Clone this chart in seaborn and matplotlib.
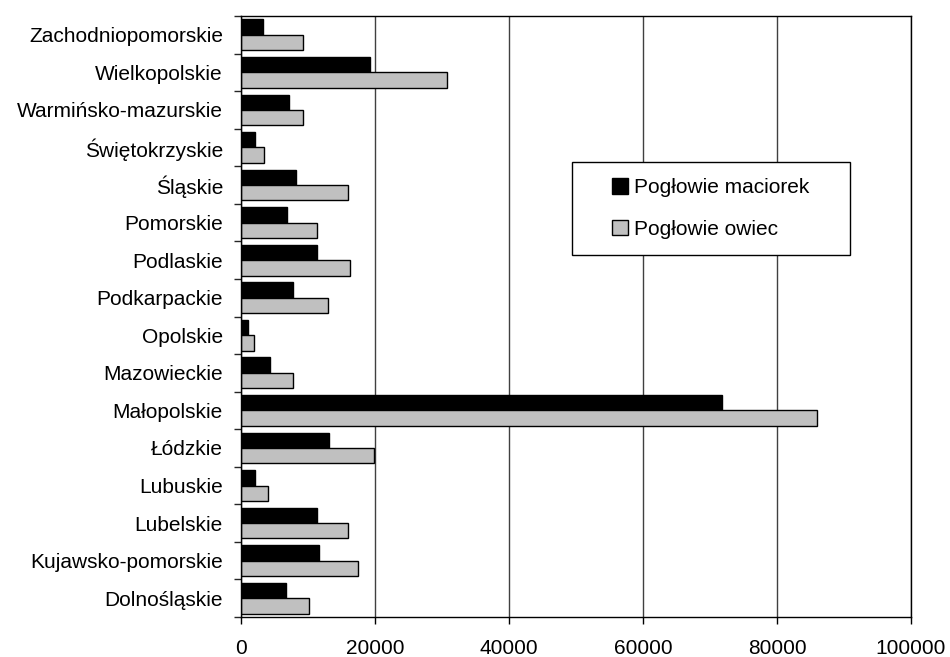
import matplotlib
matplotlib.use("Agg")
import matplotlib.pyplot as plt
from matplotlib.patches import Rectangle
import seaborn as sns
import pandas as pd
import numpy as np

regions = ['Zachodniopomorskie', 'Wielkopolskie', 'Warmińsko-mazurskie', 'Świętokrzyskie',
           'Śląskie', 'Pomorskie', 'Podlaskie', 'Podkarpackie', 'Opolskie', 'Mazowieckie',
           'Małopolskie', 'Łódzkie', 'Lubuskie', 'Lubelskie', 'Kujawsko-pomorskie', 'Dolnośląskie']
maciorki = [3300, 19300, 7200, 2100, 8200, 6900, 11300, 7800, 1000, 4300,
            71800, 13100, 2100, 11300, 11700, 6700]
owce = [9200, 30800, 9200, 3400, 15900, 11400, 16300, 13000, 2000, 7700,
        86000, 19800, 4000, 15900, 17500, 10200]
series = ['Pogłowie maciorek', 'Pogłowie owiec']

df = pd.DataFrame({'region': regions * 2,
                   'value': maciorki + owce,
                   'series': [series[0]] * len(regions) + [series[1]] * len(regions)})

sns.set_style("white")
plt.rcParams['font.family'] = ['Liberation Sans', 'DejaVu Sans']

fig = plt.figure(figsize=(9.5, 6.57), dpi=100)
ax = fig.add_axes([0.2537, 0.0609, 0.7053, 0.9147])
ax.set_axisbelow(True)
sns.barplot(data=df, x='value', y='region', hue='series', order=regions, hue_order=series,
            palette=['#000000', '#c0c0c0'], width=0.82, gap=0, edgecolor='black',
            linewidth=1, orient='h', ax=ax)

ax.set_xlim(0, 100000)
ax.set_xticks(np.arange(0, 100001, 20000))
ax.xaxis.grid(True, color='#404040', linewidth=1)
ax.yaxis.grid(False)
ax.set_xlabel('')
ax.set_ylabel('')
ax.tick_params(axis='both', labelsize=15, colors='black')
ax.tick_params(axis='x', direction='out', length=5, width=1, bottom=True, pad=11)
ax.tick_params(axis='y', which='major', length=0, pad=13)
ax.set_yticks(np.arange(-0.5, len(regions), 1), minor=True)
ax.tick_params(axis='y', which='minor', direction='out', length=5, width=1, left=True)
ax.set_ylim(len(regions) - 0.5, -0.5)
for s in ax.spines.values():
    s.set_color('black')
    s.set_linewidth(1)

# legend box drawn separately (wide side padding like the original)
ax.add_patch(Rectangle((0.494, 0.602), 0.415, 0.155, transform=ax.transAxes,
                       facecolor='white', edgecolor='black', linewidth=1, zorder=5))
leg = ax.legend(loc='center', bbox_to_anchor=(0.7015, 0.6795), fontsize=15, frameon=False,
                handlelength=0.75, handleheight=0.75, handletextpad=0.3, labelspacing=1.1,
                borderpad=0, borderaxespad=0)
leg.set_zorder(6)
for t in leg.texts:
    t.set_color('black')

fig.savefig('out.png', dpi=100)
